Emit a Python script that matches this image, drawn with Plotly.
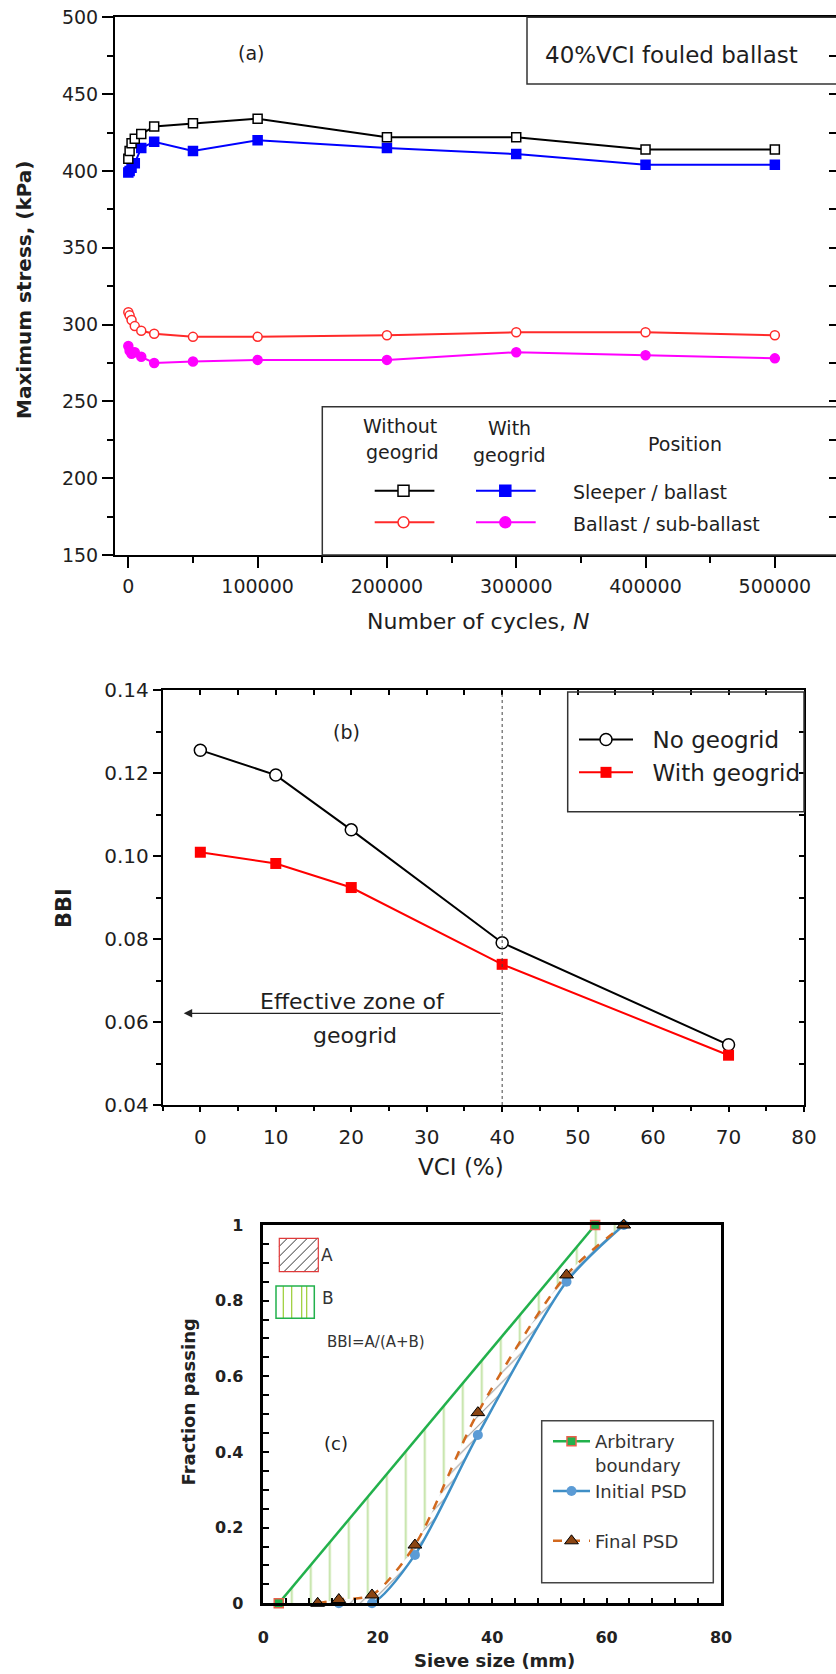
import plotly.graph_objects as go

# ---------------- data ----------------
# (a) maximum stress vs number of cycles
cycles = [1, 1000, 2500, 5000, 10000, 20000, 50000, 100000, 200000, 300000, 400000, 500000]
sleeper_without = [408, 413, 418, 421, 424, 429, 431, 434, 422, 422, 414, 414]
sleeper_with = [399, 400, 402, 405, 415, 419, 413, 420, 415, 411, 404, 404]
subballast_without = [308, 306, 303, 299, 296, 294, 292, 292, 293, 295, 295, 293]
subballast_with = [286, 283, 281, 282, 279, 275, 276, 277, 277, 282, 280, 278]
a_yticks = [150, 200, 250, 300, 350, 400, 450, 500]
a_xticks = [0, 100000, 200000, 300000, 400000, 500000]

# (b) BBI vs VCI
vci = [0, 10, 20, 40, 70]
bbi_no_geogrid = [0.1255, 0.1195, 0.1063, 0.0791, 0.0545]
bbi_with_geogrid = [0.1009, 0.0982, 0.0924, 0.0739, 0.0520]
b_xticks = [0, 10, 20, 30, 40, 50, 60, 70, 80]
b_yticks = [0.04, 0.06, 0.08, 0.10, 0.12, 0.14]

# (c) particle size distributions
boundary_size = [2.7, 58.0]
boundary_frac = [0.0, 1.0]
initial_size = [13.2, 19.0, 26.5, 37.5, 53.0, 63.0]
initial_frac = [0.0, 0.0, 0.128, 0.445, 0.85, 1.0]
final_size = [9.5, 13.2, 19.0, 26.5, 37.5, 53.0, 63.0]
final_frac = [0.0, 0.01, 0.022, 0.154, 0.504, 0.868, 1.0]
c_xticks = [0, 20, 40, 60, 80]
c_yticks = [0, 0.2, 0.4, 0.6, 0.8, 1]

# ---------------- helpers ----------------
W, H = 836, 1674
def fx(p): return p / W
def fy(p): return 1 - p / H

FONT = 'DejaVu Sans'
INK = '#1e1e1e'
NB = '\u00a0'

fig = go.Figure()

# ---------------- (a) ----------------
def add_a(y, color, symbol, fill):
    fig.add_trace(go.Scatter(
        x=cycles, y=y, mode='lines+markers', xaxis='x', yaxis='y',
        line=dict(color=color, width=2),
        marker=dict(symbol=symbol, size=9, color=fill, line=dict(color=color, width=1.5)),
        showlegend=False, cliponaxis=False))

add_a(sleeper_with, '#0000ff', 'square', '#0000ff')
add_a(sleeper_without, '#000000', 'square', 'white')
add_a(subballast_with, '#ff00ff', 'circle', '#ff00ff')
add_a(subballast_without, '#ff2a2a', 'circle', 'white')

# ---------------- (b) ----------------
fig.add_trace(go.Scatter(
    x=vci, y=bbi_no_geogrid, name=NB * 2 + 'No geogrid', mode='lines+markers',
    xaxis='x2', yaxis='y2', legend='legend2',
    line=dict(color='black', width=2),
    marker=dict(symbol='circle', size=12, color='white', line=dict(color='black', width=1.5))))
fig.add_trace(go.Scatter(
    x=vci, y=bbi_with_geogrid, name=NB * 2 + 'With geogrid', mode='lines+markers',
    xaxis='x2', yaxis='y2', legend='legend2',
    line=dict(color='#ff0000', width=2),
    marker=dict(symbol='square', size=11, color='#ff0000')))

# ---------------- (c) ----------------
# hatched areas (A between final and initial PSD, B between boundary and final PSD)
fig.add_trace(go.Scatter(
    x=initial_size, y=initial_frac, mode='lines', xaxis='x3', yaxis='y3',
    line=dict(width=0, shape='spline', smoothing=0.8), showlegend=False, hoverinfo='skip'))
fig.add_trace(go.Scatter(
    x=final_size, y=final_frac, mode='lines', xaxis='x3', yaxis='y3',
    line=dict(width=0, shape='spline', smoothing=0.8), fill='tonexty',
    fillcolor='rgba(0,0,0,0)',
    fillpattern=dict(shape='/', fgcolor='#333333', bgcolor='rgba(0,0,0,0)', size=7, solidity=0.15),
    showlegend=False, hoverinfo='skip'))
fig.add_trace(go.Scatter(
    x=boundary_size, y=boundary_frac, mode='lines', xaxis='x3', yaxis='y3',
    line=dict(width=0), fill='tonexty', fillcolor='rgba(0,0,0,0)',
    fillpattern=dict(shape='|', fgcolor='#80c342', bgcolor='rgba(0,0,0,0)', size=19, solidity=0.1),
    showlegend=False, hoverinfo='skip'))

fig.add_trace(go.Scatter(
    x=boundary_size, y=boundary_frac, name='Arbitrary<br>boundary', mode='lines+markers',
    xaxis='x3', yaxis='y3', legend='legend3', cliponaxis=False,
    line=dict(color='#22b14c', width=2.5),
    marker=dict(symbol='square', size=9, color='#22b14c', line=dict(color='#e8604c', width=1.5))))
fig.add_trace(go.Scatter(
    x=initial_size, y=initial_frac, name='Initial PSD<br>' + NB, mode='lines+markers',
    xaxis='x3', yaxis='y3', legend='legend3', cliponaxis=False,
    line=dict(color='#3f8fc6', width=2.5, shape='spline', smoothing=0.8),
    marker=dict(symbol='circle', size=10, color='#5b9bd5')))
fig.add_trace(go.Scatter(
    x=final_size, y=final_frac, name='Final PSD', mode='lines+markers',
    xaxis='x3', yaxis='y3', legend='legend3', cliponaxis=False,
    line=dict(color='#d2691e', width=2.5, dash='dash', shape='spline', smoothing=0.8),
    marker=dict(symbol='triangle-up', size=12, color='#8b4513', line=dict(color='black', width=1))))

# empty traces so overlay tick axes get drawn
fig.add_trace(go.Scatter(x=[], y=[], xaxis='x', yaxis='y4', showlegend=False))
fig.add_trace(go.Scatter(x=[], y=[], xaxis='x5', yaxis='y2', showlegend=False))
fig.add_trace(go.Scatter(x=[], y=[], xaxis='x2', yaxis='y5', showlegend=False))

# ---------------- axes ----------------
base = dict(showgrid=False, zeroline=False, showline=True, linecolor='black', mirror=True,
            tickcolor='black', autorange=False, automargin=False)
over = dict(showgrid=False, zeroline=False, showline=False, showticklabels=False,
            tickcolor='black', autorange=False, automargin=False)

layout = dict(
    width=W, height=H, autosize=False,
    margin=dict(l=0, r=0, t=0, b=0, pad=0, autoexpand=False),
    paper_bgcolor='white', plot_bgcolor='white',
    font=dict(family=FONT, color=INK),
    showlegend=True,
    xaxis=dict(base, domain=[fx(115), 1.0], anchor='y', range=[-10300, 547300],
               tickvals=a_xticks, tickformat='d', ticks='outside', ticklen=11, tickwidth=2,
               linewidth=2, ticklabelstandoff=2,
               minor=dict(dtick=50000, tick0=0, ticks='outside', ticklen=6, tickwidth=2, tickcolor='black'),
               tickfont=dict(size=19, color=INK)),
    yaxis=dict(base, mirror=False, domain=[fy(555), fy(17.3)], anchor='x', range=[150, 500],
               tickvals=a_yticks, ticks='outside', ticklen=11, tickwidth=2, linewidth=2,
               minor=dict(dtick=25, tick0=0, ticks='outside', ticklen=6, tickwidth=2, tickcolor='black'),
               tickfont=dict(size=19, color=INK)),
    yaxis4=dict(over, overlaying='y', side='right', anchor='x', range=[150, 500],
                tickvals=a_yticks, ticks='inside', ticklen=7, tickwidth=1.5,
                minor=dict(dtick=25, tick0=0, ticks='inside', ticklen=7, tickwidth=1.5, tickcolor='black')),

    xaxis2=dict(base, domain=[fx(162.6), fx(804)], anchor='y2', range=[-5, 80],
                tickvals=b_xticks, ticks='outside', ticklen=5, tickwidth=1.5, linewidth=1.8,
                ticklabelstandoff=8,
                minor=dict(dtick=5, tick0=0, ticks='outside', ticklen=4, tickwidth=1.5, tickcolor='black'),
                tickfont=dict(size=20, color=INK)),
    yaxis2=dict(base, domain=[fy(1105), fy(690)], anchor='x2', range=[0.04, 0.14],
                tickvals=b_yticks, tickformat='.2f', ticks='outside', ticklen=8, tickwidth=1.5,
                linewidth=1.8,
                minor=dict(dtick=0.01, tick0=0, ticks='outside', ticklen=5, tickwidth=1.5, tickcolor='black'),
                tickfont=dict(size=20, color=INK)),
    xaxis5=dict(over, overlaying='x2', side='top', anchor='y2', range=[-5, 80],
                tickvals=b_xticks, ticks='inside', ticklen=5, tickwidth=1.5,
                minor=dict(dtick=5, tick0=0, ticks='inside', ticklen=5, tickwidth=1.5, tickcolor='black')),
    yaxis5=dict(over, overlaying='y2', side='right', anchor='x2', range=[0.04, 0.14],
                tickvals=b_yticks, ticks='inside', ticklen=5, tickwidth=1.5,
                minor=dict(dtick=0.01, tick0=0, ticks='inside', ticklen=5, tickwidth=1.5, tickcolor='black')),

    xaxis3=dict(base, domain=[fx(263.3), fx(721)], anchor='y3', range=[0, 80],
                tickvals=c_xticks, ticks='inside', ticklen=6, tickwidth=2, linewidth=2.5,
                ticklabelstandoff=18,
                minor=dict(dtick=4, tick0=0, ticks='inside', ticklen=6, tickwidth=2, tickcolor='black'),
                tickfont=dict(size=16, color='#222', weight=700)),
    yaxis3=dict(base, domain=[fy(1603.3), fy(1225)], anchor='x3', range=[0, 1],
                tickvals=c_yticks, ticks='inside', ticklen=6, tickwidth=2, linewidth=2.5,
                ticklabelstandoff=14,
                minor=dict(dtick=0.05, tick0=0, ticks='inside', ticklen=6, tickwidth=2, tickcolor='black'),
                tickfont=dict(size=16, color='#222', weight=700)),

    legend2=dict(x=fx(574), y=fy(718), xanchor='left', yanchor='top',
                 bgcolor='rgba(0,0,0,0)', borderwidth=0, itemwidth=54,
                 font=dict(size=23, color=INK), tracegroupgap=0),
    legend3=dict(x=fx(548), y=fy(1423), xanchor='left', yanchor='top',
                 bgcolor='rgba(0,0,0,0)', borderwidth=0, itemwidth=37, valign='top',
                 font=dict(size=18, color='#333'), tracegroupgap=0),
)
fig.update_layout(**layout)

# ---------------- shapes ----------------
shapes = []
def rect_px(x0, y0, x1, y1, color='#333', width=1.5, fill='rgba(0,0,0,0)'):
    shapes.append(dict(type='rect', xref='paper', yref='paper',
                       x0=fx(x0), x1=fx(x1), y0=fy(y1), y1=fy(y0),
                       line=dict(color=color, width=width), fillcolor=fill, layer='above'))
def line_px(x0, y0, x1, y1, color, width):
    shapes.append(dict(type='line', xref='paper', yref='paper',
                       x0=fx(x0), x1=fx(x1), y0=fy(y0), y1=fy(y1),
                       line=dict(color=color, width=width), layer='above'))
def circ_px(cx, cy, r, color, fill):
    shapes.append(dict(type='circle', xref='paper', yref='paper',
                       x0=fx(cx - r), x1=fx(cx + r), y0=fy(cy + r), y1=fy(cy - r),
                       line=dict(color=color, width=1.5), fillcolor=fill, layer='above'))

# (a) annotation boxes
rect_px(527, 17.3, 845, 84)
rect_px(322.3, 406.7, 845, 555)
# (a) legend keys
for (lx0, lx1, cx), color, fill, kind, ry in [
        ((374.7, 434.4, 403.5), '#000000', 'white', 'sq', 490.7),
        ((476, 535.7, 505.3), '#0000ff', '#0000ff', 'sq', 490.7),
        ((374.7, 434.4, 403.5), '#ff2a2a', 'white', 'ci', 522.3),
        ((476, 535.7, 505.3), '#ff00ff', '#ff00ff', 'ci', 522.3)]:
    line_px(lx0, ry, lx1, ry, color, 2)
    if kind == 'sq':
        rect_px(cx - 5.5, ry - 5.5, cx + 5.5, ry + 5.5, color=color, width=1.5, fill=fill)
    else:
        circ_px(cx, ry, 5.5, color, fill)

# (b) legend box and dotted line
rect_px(567.7, 692, 804, 811.7)
shapes.append(dict(type='line', xref='x2', yref='y2 domain', x0=40, x1=40, y0=0, y1=1,
                   line=dict(color='#444', width=1, dash='dot')))

# (c) legend box
rect_px(541.7, 1420.7, 713.3, 1582.7, color='#444', width=1.5)
# (c) hatch key A
ax0, ay0, ax1, ay1 = 279.3, 1238.3, 318.3, 1271.7
k = ax0 + ay0 + 8
while k < ax1 + ay1 - 4:
    ys = min(ay1, k - ax0); xs = k - ys
    ye = max(ay0, k - ax1); xe = k - ye
    if xs < xe:
        line_px(xs, ys, xe, ye, '#333333', 1)
    k += 10
rect_px(ax0, ay0, ax1, ay1, color='#e03a3a', width=1.2)
# (c) hatch key B
for vx in [283.3, 291.7, 301.7, 306.7]:
    line_px(vx, 1286, vx, 1318.3, '#9acd32', 1.2)
rect_px(276, 1286, 314.3, 1318.3, color='#22b14c', width=1.5)

fig.update_layout(shapes=shapes)

# ---------------- annotations ----------------
ann = []
def text_px(x, y, s, size, xanchor='center', angle=0, color=INK, bold=False):
    ann.append(dict(xref='paper', yref='paper', x=fx(x), y=fy(y), text=s, showarrow=False,
                    xanchor=xanchor, yanchor='middle', textangle=angle,
                    font=dict(family=FONT, size=size, color=color, weight=700 if bold else 400)))

# (a)
text_px(24, 290, 'Maximum stress, (kPa)', 20, angle=-90, bold=True)
text_px(478, 621, 'Number of cycles, <i>N</i>', 22)
text_px(251, 53.3, '(a)', 19)
text_px(671.6, 55, '40%VCI fouled ballast', 23)
text_px(400, 425.7, 'Without', 19)
text_px(402.5, 452.3, 'geogrid', 19)
text_px(509, 427.7, 'With', 19)
text_px(509, 455, 'geogrid', 19)
text_px(685, 444, 'Position', 19)
text_px(571.4, 492.3, 'Sleeper / ballast', 19, xanchor='left')
text_px(571.4, 524, 'Ballast / sub-ballast', 19, xanchor='left')

# (b)
text_px(64, 908, 'BBI', 21, angle=-90, bold=True)
text_px(461, 1167, 'VCI (%)', 23)
text_px(346.5, 731.7, '(b)', 19)
text_px(352.6, 1001.7, 'Effective zone of', 22)
text_px(355.4, 1035, 'geogrid', 22)
ann.append(dict(x=-2.2, y=0.0621, xref='x2', yref='y2', ax=40, ay=0.0621, axref='x2', ayref='y2',
                showarrow=True, arrowhead=2, arrowsize=1.3, arrowwidth=1.3, arrowcolor='#222', text=''))

# (c)
text_px(188, 1402.5, 'Fraction passing', 18, angle=-90, bold=True, color='#222')
text_px(494, 1660, 'Sieve size (mm)', 18, bold=True, color='#222')
text_px(336, 1443.3, '(c)', 18, color='#222')
text_px(326.7, 1255, 'A', 17, color='#333')
text_px(327.5, 1298.3, 'B', 17, color='#333')
text_px(375.8, 1341.7, 'BBI=A/(A+B)', 15, color='#333')

fig.update_layout(annotations=ann)

fig.write_html('out.html', config={'responsive': False, 'displayModeBar': False},
               post_script="document.body.style.margin='0';document.body.style.padding='0';")
